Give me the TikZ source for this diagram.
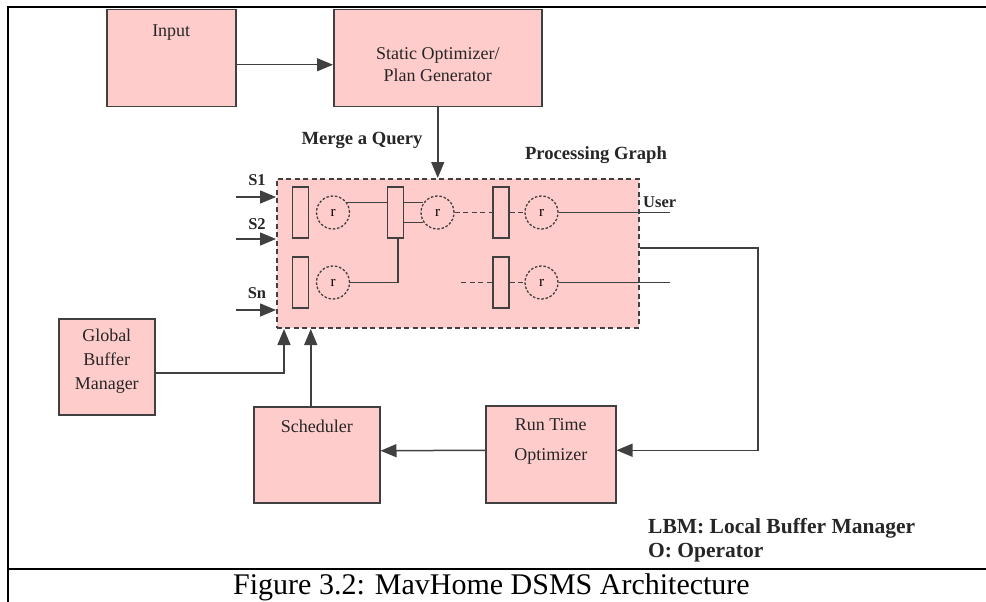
\documentclass[tikz,border=0pt]{standalone}
\usepackage{fontspec}
\setmainfont{Liberation Serif}
\usepackage{tikz}
\usetikzlibrary{shapes,arrows,arrows.meta,positioning,fit,backgrounds}

\definecolor{boxpink}{HTML}{FFCCCC}
\definecolor{edgegray}{HTML}{404040}

\begin{document}
\begin{tikzpicture}[x=1pt, y=-1pt]
    % Styles
    \tikzstyle{block}=[rectangle, draw=edgegray, fill=boxpink, line width=1.5pt, inner sep=0pt, anchor=north west]
    \tikzstyle{blocktext}=[inner sep=0pt, align=center, text=black!85]
    \tikzstyle{lbm}=[rectangle, draw=edgegray, fill=boxpink, line width=1.5pt, minimum width=16pt, minimum height=51pt, inner sep=0pt]
    \tikzstyle{op}=[circle, draw=edgegray, line width=1.3pt, dash pattern=on 2.5pt off 1.8pt, minimum size=33pt, inner sep=0pt, font=\fontsize{15}{15}\selectfont]
    \tikzstyle{tag}=[inner sep=0pt, anchor=base, text=black!85, font=\bfseries\fontsize{18.6}{22}\selectfont]
    \tikzstyle{smalltag}=[tag, font=\bfseries\fontsize{16.5}{20}\selectfont]
    \tikzstyle{wire}=[draw=edgegray, line width=1.5pt]
    \tikzstyle{arrow}=[wire, -{Triangle[length=16pt, width=13pt]}]
    \tikzstyle{frame}=[line width=2pt, black]

    \useasboundingbox (0,0) rectangle (986,602);

    % Frame
    \draw[frame] (986,7) -- (8,7) -- (8,602);
    \draw[frame] (8,569) -- (986,569);

    % Blocks
    \node (input) [block, minimum width=129pt, minimum height=97pt] at (106,9) {};
    \node (static) [block, minimum width=208pt, minimum height=97pt] at (333,9) {};
    \node (gbm) [block, minimum width=96pt, minimum height=96pt] at (58,318) {};
    \node (sched) [block, minimum width=126pt, minimum height=96pt] at (253,406) {};
    \node (rt) [block, minimum width=130pt, minimum height=97pt] at (485,405) {};
    \node (pg) [block, dash pattern=on 5pt off 3.5pt, minimum width=362pt, minimum height=149pt] at (276,178) {};

    % Block texts
    \node (input-txt) [blocktext, font=\fontsize{18}{22}\selectfont, below=16pt of input.north] {Input};
    \node (static-txt) [blocktext, font=\fontsize{18}{22}\selectfont, below=38pt of static.north] {Static Optimizer/\\Plan Generator};
    \node (gbm-txt) [blocktext, font=\fontsize{18}{24}\selectfont, below=11pt of gbm.north] {Global\\Buffer\\Manager};
    \node (sched-txt) [blocktext, font=\fontsize{18}{22}\selectfont, below=14pt of sched.north] {Scheduler};
    \node (rt-txt) [blocktext, font=\fontsize{18}{30}\selectfont, below=13pt of rt.north] {Run Time\\Optimizer};

    % Processing graph
    \node (l11) [lbm] at (300.5,212.5) {};
    \node (o11) [op] at (333,212.5) {r};
    \node (l12) [lbm] at (395.5,212.5) {};
    \node (o12) [op] at (437.5,212.5) {r};
    \node (l13) [lbm] at (501,212.5) {};
    \node (o13) [op] at (541.5,212.5) {r};
    \node (l21) [lbm] at (300.5,282.5) {};
    \node (o21) [op] at (333,282.5) {r};
    \node (l23) [lbm] at (501,282.5) {};
    \node (o23) [op] at (541.5,282.5) {r};

    \coordinate (user) at (670,212.5);
    \coordinate (out2) at (670,282.5);
    \coordinate (dots) at (461,282.5);

    \draw[wire] (o11.35) -- (o11.35 -| l12.west);
    \draw[wire] (l12.east |- o12.145) -- (o12.145);
    \draw[wire] (l12.east |- o12.215) -- (o12.215);
    \draw[wire] ([xshift=2.5pt]l12.south) |- (o21.east);
    \draw[wire, dash pattern=on 5pt off 3.5pt] (o12.east) -- (l13.west);
    \draw[wire, dash pattern=on 5pt off 3.5pt] (l13.east) -- (o13.west);
    \draw[wire] (o13.east) -- (user);
    \draw[wire, dash pattern=on 5pt off 3.5pt] (dots) -- (l23.west);
    \draw[wire, dash pattern=on 5pt off 3.5pt] (l23.east) -- (o23.west);
    \draw[wire] (o23.east) -- (out2);

    % Streams
    \coordinate (s1) at (236,197);
    \coordinate (s2) at (236,239);
    \coordinate (sn) at (236,310);
    \draw[arrow] (s1) -- (s1 -| pg.west);
    \draw[arrow] (s2) -- (s2 -| pg.west);
    \draw[arrow] (sn) -- (sn -| pg.west);

    % Connections
    \coordinate (gbmin) at (284,329);
    \coordinate (turn) at (758,248);
    \draw[arrow] ([yshift=-6.5pt]input.east) -- ([yshift=-6.5pt]static.west);
    \draw[arrow] (static.south) -- (static.south |- pg.north);
    \draw[arrow] ([yshift=-6pt]gbm.east) -| (gbmin);
    \draw[arrow] ([xshift=-6pt]sched.north) -- ([xshift=-6pt]sched.north |- gbmin);
    \draw[arrow] ([yshift=4pt]rt.west) -- ([yshift=4pt]sched.east);
    \draw[arrow] (pg.east |- turn) -- (turn) |- ([yshift=4pt]rt.east);

    % Labels
    \node (merge) [tag] at (362,144.5) {Merge a Query};
    \node (pgraph) [tag] at (596,159.5) {Processing Graph};
    \node (s1-lbl) [smalltag] at (257,185) {S1};
    \node (s2-lbl) [smalltag] at (257,229) {S2};
    \node (sn-lbl) [smalltag] at (257,298) {Sn};
    \node (user-lbl) [smalltag, anchor=base west] at (643,207) {User};
    \node (legend1) [tag, anchor=base west, font=\bfseries\fontsize{21.5}{24}\selectfont] at (648,533) {LBM: Local Buffer Manager};
    \node (legend2) [tag, anchor=base west, font=\bfseries\fontsize{21.5}{24}\selectfont] at (648,557) {O: Operator};

    % Caption
    \node (caption) [inner sep=0pt, anchor=base west, font=\fontsize{30}{34}\selectfont] at (233,594) {Figure 3.2: MavHome DSMS Architecture};
\end{tikzpicture}
\end{document}
